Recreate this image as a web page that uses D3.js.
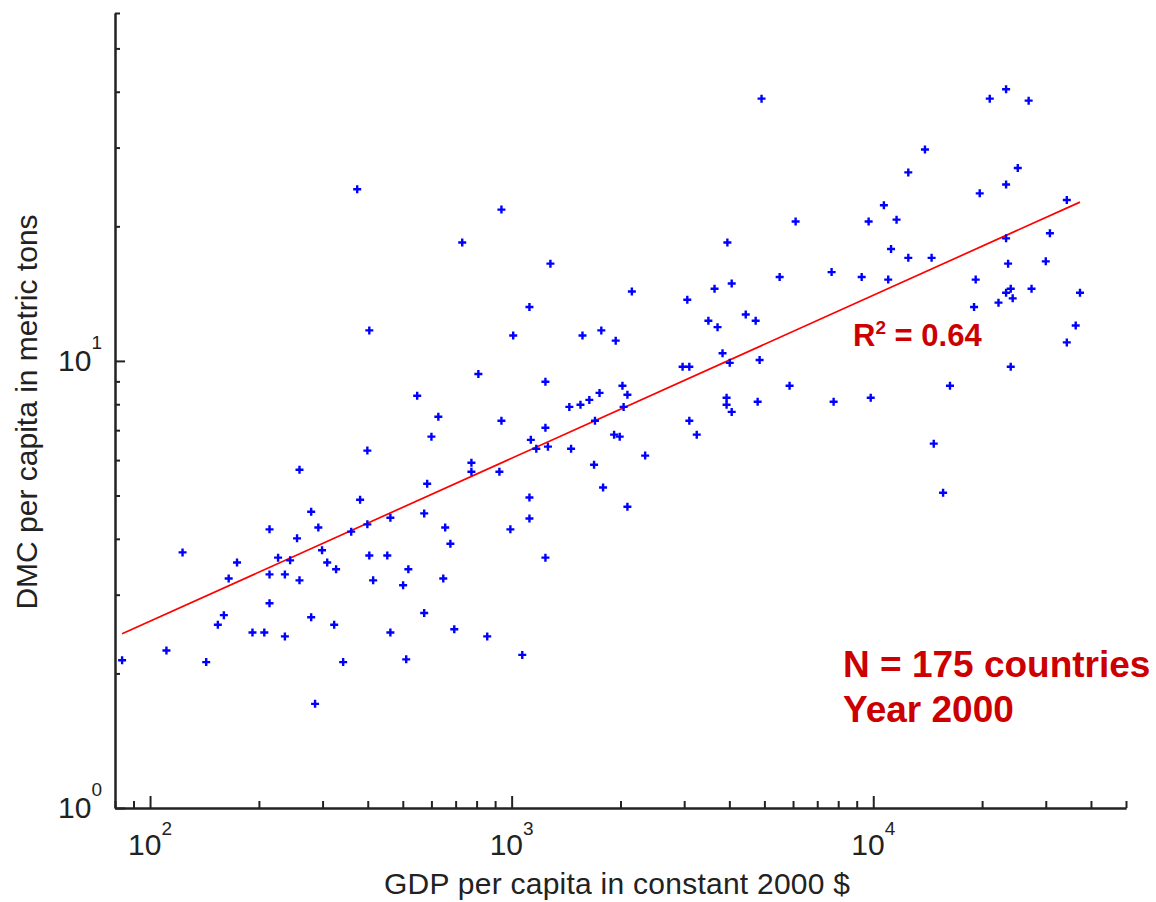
<!DOCTYPE html>
<html>
<head>
<meta charset="utf-8">
<script src="https://cdn.jsdelivr.net/npm/d3@7"></script>
<style>
  body { margin: 0; background: #fff; }
  text { font-family: "Liberation Sans", Arial, sans-serif; }
</style>
</head>
<body>
<div id="chart"></div>
<script>
// GDP per capita (constant 2000 $) and DMC per capita (metric tons)
const gdpPerCapita = [
  83.7, 111, 143, 123, 154, 160, 165, 174, 192, 207,
  214, 214, 214, 226, 236, 236, 244, 255, 259, 259,
  279, 279, 286, 292, 299, 309, 323, 327, 342, 360,
  381, 399, 399, 404, 414, 453, 462, 462, 501, 511,
  518, 573, 573, 584, 600, 627, 647, 655, 677, 694,
  374, 404, 548,
  1240, 2025, 1750, 2090, 1640, 1550, 1444, 2040, 3930, 3930,
  4060, 4790, 5870, 937, 1240, 1700, 3100, 3250, 1920, 1990,
  1130, 1170, 1260, 1460, 2340, 774, 774, 925, 1690, 1790,
  1120, 2090, 1120, 992, 1240, 856, 1070, 4910, 937, 730,
  1280, 6100, 3950, 5510, 4060, 3640, 2150, 3060, 1120, 4440,
  3500, 4730, 3710, 1010, 1570, 1770, 1940, 3830, 4850, 4010,
  2970, 3100, 809,
  23300, 21000, 26900, 13900, 12500, 25100, 23300, 19700, 34300, 10700,
  9710, 11600, 23300, 30800, 11200, 12500, 14500, 23600, 30000, 7670,
  9290, 11000, 19200, 24000, 23300, 24300, 27400, 37300, 19000, 22200,
  36300, 34300, 24000, 16300, 7770, 9840, 14700, 15600
];
const dmcPerCapita = [
  2.14, 2.25, 2.12, 3.73, 2.57, 2.70, 3.26, 3.54, 2.47, 2.47,
  4.20, 3.33, 2.87, 3.63, 3.33, 2.42, 3.58, 4.01, 5.71, 3.23,
  4.60, 2.67, 1.71, 4.24, 3.77, 3.54, 2.57, 3.42, 2.12, 4.15,
  4.89, 6.30, 4.31, 3.67, 3.23, 3.67, 4.46, 2.47, 3.15, 2.15,
  3.42, 4.56, 2.73, 5.31, 6.77, 7.50, 3.26, 4.24, 3.90, 2.51,
  24.2, 11.7, 8.36,
  8.98, 8.80, 8.48, 8.40, 8.18, 7.98, 7.89, 7.89, 8.27, 7.98,
  7.69, 8.10, 8.80, 7.35, 7.09, 7.35, 7.35, 6.84, 6.84, 6.77,
  6.66, 6.36, 6.43, 6.36, 6.14, 5.92, 5.65, 5.65, 5.86, 5.21,
  4.95, 4.72, 4.44, 4.20, 3.63, 2.42, 2.20, 38.6, 21.8, 18.4,
  16.5, 20.5, 18.4, 15.4, 14.9, 14.5, 14.3, 13.7, 13.2, 12.7,
  12.3, 12.3, 11.9, 11.4, 11.4, 11.7, 11.1, 10.4, 10.05, 9.90,
  9.70, 9.70, 9.35,
  40.5, 38.6, 38.2, 29.7, 26.4, 27.0, 24.8, 23.7, 22.9, 22.3,
  20.5, 20.7, 18.8, 19.3, 17.8, 17.0, 17.0, 16.5, 16.7, 15.8,
  15.4, 15.2, 15.2, 14.5, 14.2, 13.8, 14.5, 14.2, 13.2, 13.5,
  12.0, 11.0, 9.70, 8.80, 8.10, 8.27, 6.53, 5.07
];

// power-law fit: log10(dmc) = fitIntercept + fitSlope * log10(gdp)
const fitSlope = 0.3645;
const fitIntercept = -0.3112;
const rSquaredLabel = "0.64";
const noteLines = ["N = 175 countries", "Year 2000"];

const xDomain = [80, 50000];
const yDomain = [1, 60];
const xLabel = "GDP per capita in constant 2000 $";
const yLabel = "DMC per capita in metric tons";

const width = 1156, height = 902;
const plot = {left: 115, right: 1126, top: 13, bottom: 808};
const axisColor = "#222";
const noteColor = "#cc0000";

const svg = d3.select("#chart").append("svg")
    .attr("width", width)
    .attr("height", height)
    .style("background", "#fff");

const x = d3.scaleLog().domain(xDomain).range([plot.left, plot.right]);
const y = d3.scaleLog().domain(yDomain).range([plot.bottom, plot.top]);

const isMajor = v => Math.abs(Math.log10(v) - Math.round(Math.log10(v))) < 1e-9;
const xTicks = x.ticks();
const yTicks = y.ticks();

// axes: ticks point inward, longer on decades
function styleAxis(g) {
    g.select(".domain").attr("stroke", axisColor).attr("stroke-width", 2);
    g.selectAll(".tick line").attr("stroke", axisColor).attr("stroke-width", 2);
    g.selectAll(".tick text").remove();
}

svg.append("g")
    .attr("transform", `translate(0,${plot.bottom})`)
    .call(d3.axisBottom(x).tickValues(xTicks.filter(v => !isMajor(v)))
        .tickSizeInner(-7).tickSizeOuter(0).tickFormat(""))
    .call(styleAxis);
svg.append("g")
    .attr("transform", `translate(0,${plot.bottom})`)
    .call(d3.axisBottom(x).tickValues(xTicks.filter(isMajor))
        .tickSizeInner(-12).tickSizeOuter(0).tickFormat(""))
    .call(styleAxis);
svg.append("g")
    .attr("transform", `translate(${plot.left},0)`)
    .call(d3.axisLeft(y).tickValues(yTicks.filter(v => !isMajor(v)))
        .tickSizeInner(-5).tickSizeOuter(0).tickFormat(""))
    .call(styleAxis);
svg.append("g")
    .attr("transform", `translate(${plot.left},0)`)
    .call(d3.axisLeft(y).tickValues(yTicks.filter(isMajor))
        .tickSizeInner(-10).tickSizeOuter(0).tickFormat(""))
    .call(styleAxis);

// tick labels as 10 with superscript exponent
svg.append("g").selectAll("text")
    .data(xTicks.filter(isMajor))
    .join("text")
    .attr("x", d => x(d))
    .attr("y", plot.bottom + 47)
    .attr("text-anchor", "middle")
    .attr("fill", axisColor)
    .attr("font-size", 30)
    .call(t => {
        t.append("tspan").text("10");
        t.append("tspan").attr("font-size", 19).attr("dy", -20)
            .text(d => Math.round(Math.log10(d)));
    });

svg.append("g").selectAll("text")
    .data(yTicks.filter(isMajor))
    .join("text")
    .attr("x", plot.left - 13)
    .attr("y", d => y(d) + 10)
    .attr("text-anchor", "end")
    .attr("fill", axisColor)
    .attr("font-size", 30)
    .call(t => {
        t.append("tspan").text("10");
        t.append("tspan").attr("font-size", 19).attr("dy", -22)
            .text(d => Math.round(Math.log10(d)));
    });

// axis titles
svg.append("text")
    .attr("x", 617)
    .attr("y", 894)
    .attr("text-anchor", "middle")
    .attr("fill", axisColor)
    .attr("font-size", 30)
    .attr("textLength", 466)
    .attr("lengthAdjust", "spacing")
    .text(xLabel);

svg.append("text")
    .attr("transform", "translate(37,412) rotate(-90)")
    .attr("text-anchor", "middle")
    .attr("fill", axisColor)
    .attr("font-size", 30)
    .text(yLabel);

// fitted line over the data range
const fitY = g => Math.pow(10, fitIntercept + fitSlope * Math.log10(g));
const gdpExtent = d3.extent(gdpPerCapita);
svg.append("path")
    .datum(gdpExtent)
    .attr("fill", "none")
    .attr("stroke", "#ff0000")
    .attr("stroke-width", 1.7)
    .attr("d", d3.line().x(d => x(d)).y(d => y(fitY(d))));

// scatter of countries as plus markers
const points = gdpPerCapita.map((g, i) => ({gdp: g, dmc: dmcPerCapita[i]}));
svg.append("g").selectAll("path")
    .data(points)
    .join("path")
    .attr("transform", d => `translate(${x(d.gdp)},${y(d.dmc)})`)
    .attr("d", "M-4,0H4M0,-4V4")
    .attr("stroke", "#0000ff")
    .attr("stroke-width", 2.4)
    .attr("fill", "none");

// annotations
svg.append("text")
    .attr("x", 853)
    .attr("y", 346)
    .attr("fill", noteColor)
    .attr("font-size", 31)
    .attr("font-weight", "bold")
    .call(t => {
        t.append("tspan").text("R");
        t.append("tspan").attr("font-size", 19).attr("dy", -12).text("2");
        t.append("tspan").attr("dy", 12).text(" = " + rSquaredLabel);
    });

svg.append("g").selectAll("text")
    .data(noteLines)
    .join("text")
    .attr("x", 843)
    .attr("y", (d, i) => 677 + i * 45)
    .attr("fill", noteColor)
    .attr("font-size", 37)
    .attr("font-weight", "bold")
    .text(d => d);
</script>
</body>
</html>
